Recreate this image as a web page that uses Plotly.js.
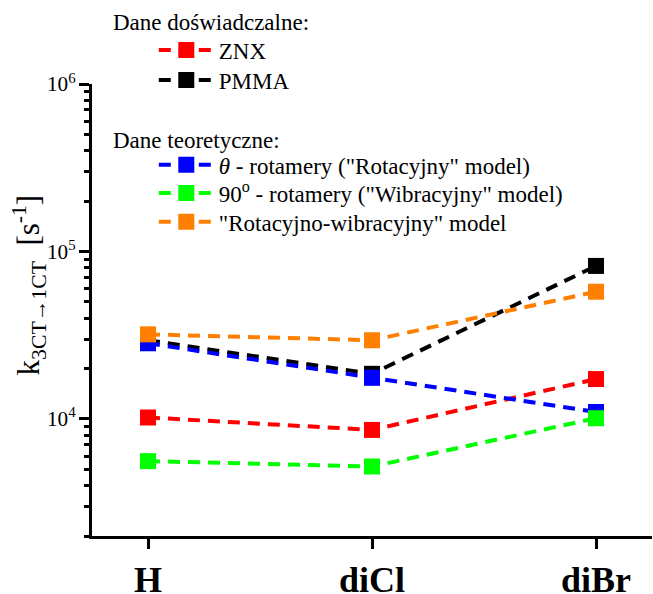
<!DOCTYPE html>
<html>
<head>
<meta charset="utf-8">
<script src="https://cdn.plot.ly/plotly-3.0.1.min.js"></script>
<style>
  html, body { margin: 0; padding: 0; background: #fff; }
  #chart { width: 653px; height: 594px; }
</style>
</head>
<body>
<div id="chart"></div>
<script>
// Substituent categories on the x axis
const categories = ['H', 'diCl', 'diBr'];

// Rate constants k(3CT -> 1CT) in s^-1
const znx        = [10200, 8600, 17300];   // experimental, ZNX
const pmma       = [29500, 18600, 82000];  // experimental, PMMA
const rotamerTh  = [28300, 17600, 11000];  // theta rotamers ("Rotacyjny" model)
const rotamer90  = [5600, 5200, 10100];    // 90° rotamers ("Wibracyjny" model)
const rotVib     = [32000, 29500, 57500];  // "Rotacyjno-wibracyjny" model

const seriesNames = [
  'ZNX',
  'PMMA',
  '<i>θ</i> - rotamery ("Rotacyjny" model)',
  '90<sup>o</sup> - rotamery ("Wibracyjny" model)',
  '"Rotacyjno-wibracyjny" model'
];
const groupTitles = ['Dane doświadczalne:', 'Dane teoretyczne:'];
const yTitle = 'k<sub>3CT→1CT</sub>  [s<sup>-1</sup>]';

const serif = '"Liberation Serif", "Times New Roman", Times, serif';
const legendFontSize = 23;

function series(name, y, color, legend) {
  return {
    x: [0, 1, 2],
    y: y,
    name: name,
    type: 'scatter',
    mode: 'lines+markers',
    legend: legend,
    line: { color: color, width: 4, dash: '12px,8px' },
    marker: { symbol: 'square', size: 16, color: color, line: { width: 0 } },
    hoverinfo: 'x+y+name'
  };
}

// one legend box per entry so the rows can be spaced freely
const data = [
  series(seriesNames[0], znx, '#ff0000', 'legend'),
  series(seriesNames[1], pmma, '#000000', 'legend2'),
  series(seriesNames[2], rotamerTh, '#0000ff', 'legend3'),
  series(seriesNames[3], rotamer90, '#00ff00', 'legend4'),
  series(seriesNames[4], rotVib, '#ff8000', 'legend5')
];

function legendBox(y) {
  return {
    bgcolor: 'rgba(0,0,0,0)',
    borderwidth: 0,
    font: { family: serif, size: legendFontSize, color: '#000' },
    x: 0.03,
    y: y,
    xanchor: 'left',
    yanchor: 'middle',
    itemwidth: 55,
    indentation: 45
  };
}

// group headings above the legend rows
function heading(text, y) {
  return {
    text: text,
    xref: 'paper', yref: 'paper',
    x: 0.034, y: y,
    xanchor: 'left', yanchor: 'middle',
    showarrow: false,
    font: { family: serif, size: legendFontSize, color: '#000' }
  };
}

const layout = {
  width: 653,
  height: 594,
  margin: { l: 92, r: 1, t: 84, b: 58 },
  paper_bgcolor: '#fff',
  plot_bgcolor: '#fff',
  showlegend: true,
  font: { family: serif, color: '#000' },
  xaxis: {
    range: [-0.25, 2.25],
    tickmode: 'array',
    tickvals: [0, 1, 2],
    ticktext: categories.map(c => '<b>' + c + '</b>'),
    tickfont: { family: serif, size: 36, color: '#000' },
    ticks: 'outside',
    ticklen: 10,
    tickwidth: 3,
    tickcolor: '#000',
    ticklabelstandoff: 0,
    showline: true,
    linewidth: 3,
    linecolor: '#000',
    showgrid: false,
    zeroline: false,
    fixedrange: true
  },
  yaxis: {
    type: 'log',
    range: [Math.log10(2000), 6],
    dtick: 1,
    exponentformat: 'power',
    showexponent: 'all',
    tickfont: { family: serif, size: 17, color: '#000' },
    ticks: 'outside',
    ticklen: 10,
    tickwidth: 3,
    tickcolor: '#000',
    minor: { dtick: 'D1', ticks: 'outside', ticklen: 5, tickwidth: 3, tickcolor: '#000', showgrid: false },
    showline: true,
    linewidth: 3,
    linecolor: '#000',
    showgrid: false,
    zeroline: false,
    fixedrange: true
  },
  annotations: [
    {
      text: yTitle,
      xref: 'paper', yref: 'paper',
      x: -0.112, y: 0.555,
      xanchor: 'center', yanchor: 'middle',
      textangle: -90,
      showarrow: false,
      font: { family: serif, size: 31, color: '#000' }
    },
    heading(groupTitles[0], 1.137),
    heading(groupTitles[1], 0.876)
  ],
  legend:  legendBox(1.075),
  legend2: legendBox(1.009),
  legend3: legendBox(0.821),
  legend4: legendBox(0.759),
  legend5: legendBox(0.695)
};

Plotly.newPlot('chart', data, layout, { displayModeBar: false, staticPlot: true });
</script>
</body>
</html>
